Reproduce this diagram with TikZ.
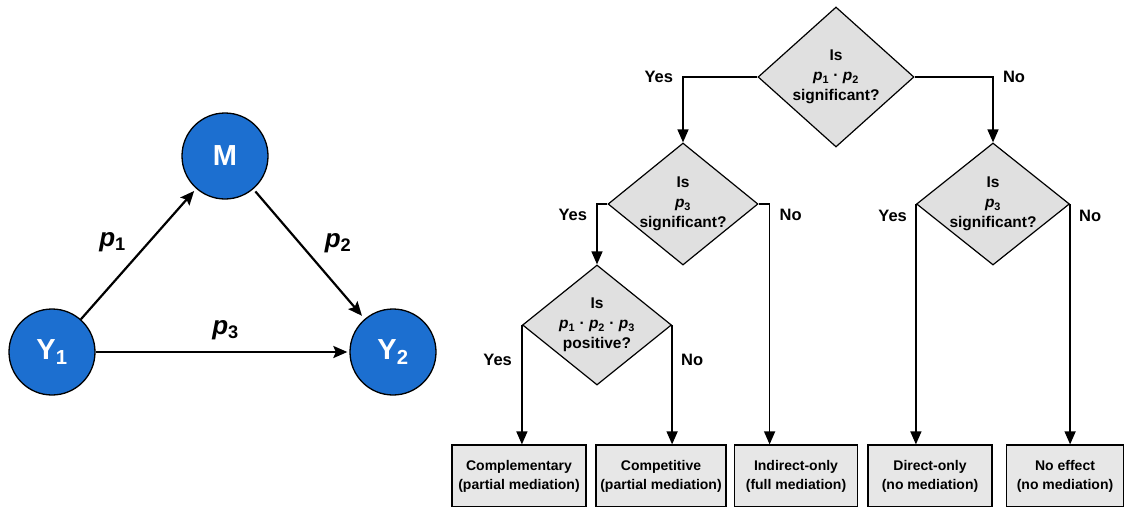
\documentclass[tikz,border=0pt]{standalone}
\usepackage{fontspec}
\setmainfont{Liberation Sans}
\usepackage{tikz}
\usetikzlibrary{arrows.meta,shapes.geometric}

\definecolor{varblue}{RGB}{28,111,208}
\definecolor{qgray}{RGB}{224,224,224}
\definecolor{outgray}{RGB}{231,231,231}

\newcommand{\pp}[1]{\textit{p}\textsubscript{#1}}

\tikzset{
  var/.style={circle, draw=black, line width=1.3pt, fill=varblue, text=white,
    minimum size=86pt, inner sep=0pt, font=\fontsize{29}{32}\selectfont\bfseries},
  link/.style={-{Stealth[length=14pt,width=12pt,inset=2.5pt]}, line width=2.2pt},
  coef/.style={font=\fontsize{26}{28}\selectfont\bfseries},
  question/.style={diamond, draw=black, fill=qgray, line width=1.2pt, inner sep=-16pt,
    align=center, font=\fontsize{15.5}{20}\selectfont\bfseries},
  outcome/.style={rectangle, draw=black, fill=outgray, line width=1.2pt,
    minimum height=62pt, inner sep=0pt, align=center,
    font=\fontsize{14}{19}\selectfont\bfseries},
  flow/.style={-{Triangle[length=13pt,width=11pt]}, line width=1.4pt},
  answer/.style={font=\fontsize{16.5}{18}\selectfont\bfseries}
}

\begin{document}
\begin{tikzpicture}[x=1pt,y=-1pt]
\useasboundingbox (0,0) rectangle (1126,506);

% mediation model
  \draw (225,156) node[var] (M) {M};
  \draw (52,352) node[var] (Y1) {Y\textsubscript{1}};
  \draw (393,352) node[var] (Y2) {Y\textsubscript{2}};
     \path[link] (Y1) edge[shorten >=3pt] node[coef, xshift=-26pt, yshift=12pt] {\pp{1}} (M);
     \path[link] (M) edge[shorten <=3pt, shorten >=4pt] node[coef, xshift=29pt, yshift=11pt] {\pp{2}} (Y2);
     \path[link] (Y1) edge[shorten >=2pt] node[coef, xshift=3pt, yshift=22pt] {\pp{3}} (Y2);

% decision tree
  \draw (836,77) node[question, minimum width=156pt, minimum height=140pt] (q1) {Is\\\pp{1} · \pp{2}\\significant?};
  \draw (683,204) node[question, minimum width=150pt, minimum height=122pt] (q2) {Is\\\pp{3}\\significant?};
  \draw (993,204) node[question, minimum width=153pt, minimum height=122pt] (q3) {Is\\\pp{3}\\significant?};
  \draw (597,325) node[question, minimum width=149pt, minimum height=120pt] (q4) {Is\\\pp{1} · \pp{2} · \pp{3}\\positive?};

  \draw (519,476) node[outcome, minimum width=134pt] (o1) {Complementary\\(partial mediation)};
  \draw (661,476) node[outcome, minimum width=130pt] (o2) {Competitive\\(partial mediation)};
  \draw (796,476) node[outcome, minimum width=123pt] (o3) {Indirect-only\\(full mediation)};
  \draw (930,476) node[outcome, minimum width=124pt] (o4) {Direct-only\\(no mediation)};
  \draw (1065,476) node[outcome, minimum width=117pt] (o5) {No effect\\(no mediation)};

  \coordinate (q2r) at ([xshift=11pt]q2.east);

     \draw[flow] (q1.west) -| node[pos=0.5, answer, left=6pt] {Yes} (q2.north);
     \draw[flow] (q1.east) -| node[pos=0.5, answer, right=6pt] {No} (q3.north);
     \draw[flow] (q2.west) -| node[pos=0.5, answer, left=6pt, yshift=-11pt] {Yes} (q4.north);
     \draw[flow] (q2.east) -- (q2r) node[answer, right=6pt, yshift=-11pt] {No} -- (q2r |- o3.north);
     \draw[flow] (q4.west) -- node[pos=0.29, answer, left=6pt] {Yes} (q4.west |- o1.north);
     \draw[flow] (q4.east) -- node[pos=0.29, answer, right=5pt] {No} (q4.east |- o2.north);
     \draw[flow] (q3.west) -- node[pos=0.05, answer, left=5pt] {Yes} (q3.west |- o4.north);
     \draw[flow] (q3.east) -- node[pos=0.05, answer, right=5pt] {No} (q3.east |- o5.north);
\end{tikzpicture}
\end{document}
